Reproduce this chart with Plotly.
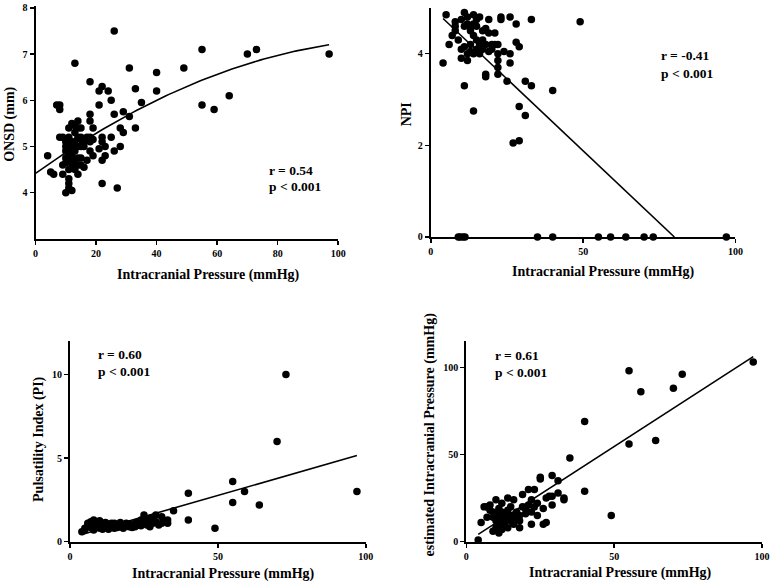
import numpy as np
import plotly.graph_objects as go

W, H = 778, 588

# ---------------- data ----------------
# Panel A: ONSD vs ICP
onsd_icp = [4, 5, 6, 7, 8, 8, 8, 9, 9, 9, 10, 10, 10, 10, 10, 10, 11, 11, 11, 11, 11, 11, 11, 11,
            12, 12, 12, 12, 12, 12, 12, 12, 13, 13, 13, 13, 13, 13, 13, 13, 14, 14, 14, 14, 14, 14, 14,
            15, 15, 15, 15, 15, 15, 16, 16, 16, 17, 17, 18, 18, 18, 18, 18, 18, 19, 19, 19,
            21, 21, 21, 22, 22, 22, 22, 22, 23, 23, 24, 25, 25, 26, 26, 26, 27, 28, 28, 29, 29,
            31, 31, 33, 33, 35, 40, 40, 49, 55, 55, 59, 64, 70, 73, 97]
onsd_val = [4.8, 4.45, 4.4, 5.9, 5.9, 5.8, 5.2, 4.4, 5.2, 4.6, 4.0, 5.1, 4.9, 4.75, 5.0, 4.65, 4.2, 4.3, 5.4, 4.7, 4.5, 4.8, 5.2, 4.1,
            4.05, 5.5, 5.0, 4.8, 4.55, 5.1, 4.9, 4.65, 6.8, 5.3, 5.1, 4.7, 4.5, 4.9, 5.45, 4.6, 5.55, 5.4, 5.2, 4.4, 4.6, 5.0, 4.75,
            5.2, 4.75, 4.6, 5.0, 5.4, 5.15, 5.1, 4.55, 5.0, 5.2, 4.7, 6.4, 5.7, 5.55, 5.2, 4.9, 5.1, 5.4, 4.8, 5.15,
            6.2, 5.9, 4.95, 6.3, 5.2, 5.1, 4.7, 4.2, 4.8, 5.0, 6.2, 6.0, 5.2, 7.5, 5.7, 4.9, 4.1, 5.4, 5.0, 5.75, 5.3,
            6.7, 5.65, 6.25, 5.4, 5.95, 6.6, 6.2, 6.7, 7.1, 5.9, 5.8, 6.1, 7.0, 7.1, 7.0]
onsd_fit_coef = [4.42, 0.0471, -0.00019]   # quadratic fit shown on chart

# Panel B: NPI vs ICP
npi_icp = [9, 9.6, 10.5, 11.2, 35, 40, 55, 59, 64, 70, 73, 97,
           4, 5, 6, 7, 8, 8, 8, 9, 10, 10, 10, 11, 11, 11, 11, 12, 12, 12, 12, 13, 13, 13, 13,
           14, 14, 14, 14, 14, 15, 15, 15, 15, 16, 16, 16, 17, 17, 17, 18, 18, 18, 18, 19, 19, 19,
           20, 20, 21, 21, 22, 22, 22, 22, 22, 23, 23, 24, 25, 26, 26, 26, 27, 28, 28, 29, 29, 29,
           31, 31, 33, 33, 40, 49]
npi_val = [0, 0, 0, 0, 0, 0, 0, 0, 0, 0, 0, 0,
           3.8, 4.85, 4.2, 4.4, 4.6, 4.7, 4.5, 4.3, 4.1, 3.9, 4.75, 4.9, 4.6, 3.3, 4.15, 4.0, 3.85, 4.65, 4.8, 4.5, 4.2, 4.55, 4.05,
           4.85, 4.4, 2.75, 4.0, 4.65, 4.3, 4.1, 4.6, 4.75, 4.0, 4.8, 4.2, 4.5, 4.1, 4.3, 4.55, 4.2, 3.55, 3.5, 4.05, 4.45, 4.75,
           4.2, 4.1, 4.45, 4.2, 4.0, 3.85, 3.7, 3.55, 4.2, 4.8, 4.75, 4.05, 3.4, 4.0, 3.8, 4.8, 2.05, 4.65, 4.25, 4.15, 2.85, 2.1,
           3.4, 2.65, 4.75, 3.3, 3.2, 4.7]
npi_fit_coef = [5.02, -0.0628]

# Panel C: PI vs ICP
pi_icp = [4, 5, 5, 6, 6, 7, 7, 8, 8, 8, 9, 9, 9, 10, 10, 10, 11, 11, 11, 12, 12, 12, 13, 13, 13,
          14, 14, 14, 15, 15, 15, 16, 16, 17, 17, 18, 18, 19, 19, 20, 20, 21, 21, 22, 22, 23, 23,
          24, 24, 25, 25, 26, 26, 27, 27, 28, 28, 29, 29, 30, 31, 31, 33, 33, 35, 40, 40, 49,
          55, 55, 59, 64, 70, 73, 97]
pi_val = [0.6, 0.8, 0.7, 1.1, 0.9, 1.2, 0.85, 1.3, 1.0, 0.7, 1.1, 0.9, 1.2, 0.8, 1.0, 1.25, 0.9, 1.1, 0.75,
          1.0, 0.85, 1.15, 0.9, 1.05, 0.75, 1.0, 0.85, 1.1, 0.95, 0.8, 1.1, 1.0, 0.85, 1.15, 0.9, 1.0, 0.8,
          1.1, 0.95, 0.9, 1.05, 0.85, 1.0, 1.1, 0.9, 1.2, 1.0, 1.3, 0.95, 1.6, 1.1, 1.0, 1.25, 1.4, 0.9,
          1.1, 1.3, 1.6, 1.2, 1.0, 1.5, 1.1, 1.1, 1.3, 1.85, 2.9, 1.3, 0.8, 3.6, 2.35, 3.0, 2.2, 6.0, 10.0, 3.0]
pi_fit_coef = [0.23, 0.0508]

# Panel D: estimated ICP vs ICP
eicp_icp = [4, 5, 6, 7, 7, 8, 8, 9, 9, 9, 10, 10, 10, 10, 11, 11, 11, 11, 12, 12, 12, 12, 13, 13, 13,
            14, 14, 14, 14, 15, 15, 15, 16, 16, 16, 17, 17, 18, 18, 18, 19, 19, 20, 20, 21, 21,
            22, 22, 22, 23, 23, 24, 24, 25, 25, 26, 26, 27, 27, 28, 29, 29, 29, 31, 31, 33, 33,
            35, 40, 40, 49, 55, 55, 59, 64, 70, 73, 97]
eicp_val = [1, 11, 20, 14, 20, 18, 21, 6, 14, 17, 24, 12, 8, 16, 5, 10, 15, 19, 13, 7, 22, 17, 11, 16, 9,
            25, 14, 18, 8, 12, 15, 20, 24, 13, 10, 17, 14, 15, 8, 12, 20, 27, 16, 19, 30, 21,
            10, 24, 17, 30, 20, 15, 22, 36, 37, 19, 10, 11, 25, 26, 38, 21, 26, 35, 28, 24, 25,
            48, 69, 29, 15, 98, 56, 86, 58, 88, 96, 103]
eicp_fit_coef = [-0.2, 1.096]

x_title = "Intracranial Pressure (mmHg)"
y_titles = ["ONSD (mm)", "NPI", "Pulsatility Index (PI)", "estimated Intracranial Pressure (mmHg)"]
stats = [("r = 0.54", "p < 0.001"), ("r = -0.41", "p < 0.001"),
         ("r = 0.60", "p < 0.001"), ("r = 0.61", "p < 0.001")]

# ---------------- layout helpers ----------------
FONT = "Liberation Serif, Times New Roman, serif"


def px_x(p):
    return p / W


def px_y(p):
    return 1 - p / H


panels = [
    dict(x=(33, 340), y=(2, 239), xr=[0, 100], yr=[3, 8.04], xt=[0, 20, 40, 60, 80, 100], yt=[4, 5, 6, 7, 8]),
    dict(x=(434, 743), y=(4, 237), xr=[0, 100], yr=[0, 5], xt=[0, 50, 100], yt=[0, 2, 4]),
    dict(x=(68, 368), y=(343, 547), xr=[0, 100], yr=[0, 12], xt=[0, 50, 100], yt=[0, 5, 10]),
    dict(x=(470, 770), y=(343, 547), xr=[0, 100], yr=[0, 115], xt=[0, 50, 100], yt=[0, 50, 100]),
]

fig = go.Figure()

series = [(onsd_icp, onsd_val), (npi_icp, npi_val), (pi_icp, pi_val), (eicp_icp, eicp_val)]

# fit lines
fit_lines = []
xs = np.linspace(0, max(onsd_icp), 100)
fit_lines.append((xs, onsd_fit_coef[0] + onsd_fit_coef[1] * xs + onsd_fit_coef[2] * xs ** 2))
x_end = -npi_fit_coef[0] / npi_fit_coef[1]
xs = np.array([min(npi_icp[12:]), x_end])
fit_lines.append((xs, npi_fit_coef[0] + npi_fit_coef[1] * xs))
xs = np.array([min(pi_icp), max(pi_icp)])
fit_lines.append((xs, pi_fit_coef[0] + pi_fit_coef[1] * xs))
xs = np.array([min(eicp_icp), max(eicp_icp)])
fit_lines.append((xs, eicp_fit_coef[0] + eicp_fit_coef[1] * xs))

layout_axes = {}
annotations = []
for i, (p, (sx, sy), (fx, fy)) in enumerate(zip(panels, series, fit_lines)):
    n = "" if i == 0 else str(i + 1)
    xa, ya = "x" + n, "y" + n
    fig.add_trace(go.Scatter(x=sx, y=sy, mode="markers", xaxis=xa, yaxis=ya,
                             marker=dict(size=7.5, color="black"), cliponaxis=False,
                             showlegend=False, hoverinfo="skip"))
    fig.add_trace(go.Scatter(x=fx, y=fy, mode="lines", xaxis=xa, yaxis=ya,
                             line=dict(color="black", width=1.6), cliponaxis=False,
                             showlegend=False, hoverinfo="skip"))
    common = dict(showgrid=False, zeroline=False, showline=True, linecolor="black", linewidth=2,
                  ticks="outside", ticklen=4, tickwidth=1.5, tickcolor="black",
                  ticklabeloverflow="allow",
                  tickfont=dict(family=FONT, size=10, color="black", weight="bold"))
    layout_axes["xaxis" + n] = dict(domain=[px_x(p["x"][0]), px_x(p["x"][1])], range=p["xr"],
                                    tickvals=p["xt"], anchor=ya, **common)
    layout_axes["yaxis" + n] = dict(domain=[px_y(p["y"][1]), px_y(p["y"][0])], range=p["yr"],
                                    tickvals=p["yt"], anchor=xa, **common)

# axis titles
xt_pos = [(208, 276), (609, 273), (224, 580), (626, 579)]
yt_pos = [(7, 122), (409, 112), (37, 442), (433, 438)]
for (xp, yp) in xt_pos:
    annotations.append(dict(text="<b>" + x_title + "</b>", x=px_x(xp), y=px_y(yp), xref="paper", yref="paper",
                            showarrow=False, xanchor="center", yanchor="middle",
                            font=dict(family=FONT, size=14, color="black")))
for (xp, yp), t in zip(yt_pos, y_titles):
    annotations.append(dict(text="<b>" + t + "</b>", x=px_x(xp), y=px_y(yp), xref="paper", yref="paper",
                            showarrow=False, xanchor="center", yanchor="middle", textangle=-90,
                            font=dict(family=FONT, size=14, color="black")))

# stats text
st_pos = [(268, 169, 186), (665, 52, 71), (94, 357, 374), (497, 358, 375)]
for (xp, y1, y2), (r, pv) in zip(st_pos, stats):
    for t, yp in ((r, y1), (pv, y2)):
        annotations.append(dict(text="<b>" + t + "</b>", x=px_x(xp), y=px_y(yp), xref="paper", yref="paper",
                                showarrow=False, xanchor="left", yanchor="middle",
                                font=dict(family=FONT, size=13.5, color="black")))

fig.update_layout(width=W, height=H, autosize=False, margin=dict(l=0, r=0, t=0, b=0),
                  paper_bgcolor="white", plot_bgcolor="white", annotations=annotations,
                  hovermode=False, **layout_axes)

fig.write_html("out.html", config={"displayModeBar": False, "staticPlot": True},
               post_script="document.body.style.margin='0';document.body.style.overflow='hidden';")
